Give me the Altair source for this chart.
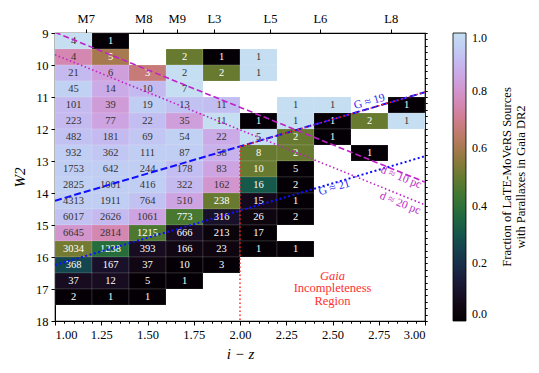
import altair as alt
import pandas as pd
import numpy as np

# ---------------- data ----------------
x_edges = [1.0, 1.2, 1.4, 1.6, 1.8, 2.0, 2.2, 2.4, 2.6, 2.8, 3.0]
row_lo = [9.0, 9.5, 10.0, 10.5, 11.0, 11.5, 12.0, 12.5, 13.0,
          13.5, 14.0, 14.5, 15.0, 15.5, 16.0, 16.5, 17.0]
N = None
counts = [
    [4, 1],
    [4, 5, N, 2, 1, 1],
    [21, 6, 3, 2, 2, 1],
    [45, 14, 10, 7],
    [101, 39, 19, 13, 11, N, 1, 1, N, 1],
    [223, 77, 22, 35, 11, 1, 1, 1, 2, 1],
    [482, 181, 69, 54, 22, 5, 2, 1],
    [932, 362, 111, 87, 58, 8, 2, N, 1],
    [1753, 642, 244, 178, 83, 10, 5],
    [2825, 1001, 416, 322, 162, 16, 2],
    [4313, 1911, 764, 510, 238, 15, 1],
    [6017, 2626, 1061, 773, 316, 26, 2],
    [6645, 2814, 1215, 666, 213, 17],
    [3034, 1238, 393, 166, 23, 1, 1],
    [368, 167, 37, 10, 3],
    [37, 12, 5, 1],
    [2, 1, 1],
]
fracs = [
    [1.0, 0.0],
    [0.75, 0.6, N, 0.5, 0.0, 1.0],
    [0.9, 0.83, 0.67, 1.0, 0.5, 1.0],
    [0.96, 0.86, 0.9, 1.0],
    [0.9, 0.82, 0.95, 0.92, 0.91, N, 1.0, 1.0, N, 0.0],
    [0.9, 0.84, 0.91, 0.83, 1.0, 0.0, 1.0, 0.0, 0.5, 1.0],
    [0.92, 0.9, 0.93, 0.96, 0.86, 1.0, 0.5, 0.0],
    [0.95, 0.93, 0.95, 0.95, 0.88, 0.5, 0.5, N, 0.0],
    [0.95, 0.95, 0.95, 0.91, 0.84, 0.5, 0.0],
    [0.96, 0.95, 0.95, 0.9, 0.8, 0.31, 0.0],
    [0.95, 0.95, 0.92, 0.84, 0.5, 0.07, 0.0],
    [0.92, 0.9, 0.84, 0.45, 0.1, 0.04, 0.0],
    [0.8, 0.75, 0.46, 0.08, 0.03, 0.0],
    [0.52, 0.38, 0.08, 0.05, 0.04, 0.0, 0.0],
    [0.26, 0.1, 0.05, 0.0, 0.0],
    [0.08, 0.08, 0.0, 0.0],
    [0.0, 0.0, 0.0],
]

spt_labels = ["M7", "M8", "M9", "L3", "L5", "L6", "L8"]
spt_pos = [1.166, 1.477, 1.658, 1.859, 2.162, 2.432, 2.815]

x_major = [1.0, 1.25, 1.5, 1.75, 2.0, 2.25, 2.5, 2.75, 3.0]
x_minor = [round(1.0 + 0.05 * k, 2) for k in range(41)]
y_major = [9, 10, 11, 12, 13, 14, 15, 16, 17, 18]
y_minor = [round(9.0 + 0.2 * k, 1) for k in range(46)]

# reference lines (endpoints in i-z, W2)
line_name = ["d10", "d10", "d20", "d20", "g19", "g19", "g21", "g21",
             "red1", "red1", "red2", "red2"]
line_x = [1.0, 3.0, 1.0, 3.0, 1.0, 3.0, 1.0, 3.0, 2.0, 3.0, 2.0, 2.0]
line_y = [8.98, 13.66, 9.68, 14.37, 14.24, 10.85, 16.25, 12.85,
          12.55, 10.85, 12.55, 18.0]

ann_text = ["G ≈ 19", "G ≈ 21", "d ≈ 10 pc", "d ≈ 20 pc"]
ann_x = [2.70, 2.51, 2.87, 2.865]
ann_y = [11.15, 13.84, 13.52, 14.33]
ann_angle = [344, 344, 22, 22]
ann_color = ["#2a2af0", "#2a2af0", "#c030c8", "#c030c8"]

gaia_text = ["Gaia", "Incompleteness", "Region"]
gaia_x = [2.5, 2.5, 2.5]
gaia_y = [16.58, 16.98, 17.39]
gaia_italic = [True, False, False]

cbar_title = ["Fraction of LaTE-MoVeRS Sources", "with Parallaxes in Gaia DR2"]

# ---------------- colormap (truncated cubehelix) ----------------
def cubehelix(x, gamma=1.0, s=0.5, r=-1.5, h=1.0):
    xg = x ** gamma
    a = h * xg * (1 - xg) / 2
    phi = 2 * np.pi * (s / 3 + r * x)
    R = xg + a * (-0.14861 * np.cos(phi) + 1.78277 * np.sin(phi))
    G = xg + a * (-0.29227 * np.cos(phi) - 0.90649 * np.sin(phi))
    B = xg + a * (1.97294 * np.cos(phi))
    return np.clip(np.stack([R, G, B], -1), 0, 1)

stops = np.linspace(0, 1, 33)
rgb = cubehelix(stops * 0.85)
cmap = ["#%02x%02x%02x" % tuple(int(round(v * 255)) for v in c) for c in rgb]
stops = [float(s) for s in stops]

# ---------------- tables ----------------
recs = []
for i, r in enumerate(row_lo):
    for j, c in enumerate(counts[i]):
        if c is None:
            continue
        f = fracs[i][j]
        recs.append(dict(x0=x_edges[j], x1=x_edges[j + 1], y0=r, y1=r + 0.5,
                         xc=(x_edges[j] + x_edges[j + 1]) / 2, yc=r + 0.25,
                         n=str(c), frac=f,
                         tc="#ffffff" if f < 0.7 else "#333333"))
cells = pd.DataFrame(recs)
lines = pd.DataFrame({"name": line_name, "x": line_x, "y": line_y})
ann = pd.DataFrame({"t": ann_text, "x": ann_x, "y": ann_y, "a": ann_angle, "c": ann_color})
gaia = pd.DataFrame({"t": gaia_text, "x": gaia_x, "y": gaia_y, "it": gaia_italic})
spt = pd.DataFrame({"pos": spt_pos})
xmin_df = pd.DataFrame({"v": x_minor})
ymin_df = pd.DataFrame({"v": y_minor})

FONT = "Liberation Serif, DejaVu Serif, serif"
xs = alt.Scale(domain=[1.0, 3.0], nice=False, zero=False)
ys = alt.Scale(domain=[9.0, 18.0], reverse=True, nice=False, zero=False)

expr = ""
bounds = [(spt_pos[k] + spt_pos[k + 1]) / 2 for k in range(len(spt_pos) - 1)]
for b, lab in zip(bounds, spt_labels[:-1]):
    expr += f"datum.value < {b:.4f} ? '{lab}' : "
expr += f"'{spt_labels[-1]}'"

rects = alt.Chart(cells).mark_rect(stroke="#ffffff", strokeWidth=0.3, strokeOpacity=0.4).encode(
    x=alt.X("x0:Q", scale=xs,
            axis=alt.Axis(values=x_major, format=".2f", title="i − z", titleFontStyle="italic",
                          titleFontSize=15, titlePadding=6, labelFontSize=12.5, tickSize=4,
                          labelPadding=3, grid=False, domainColor="black", tickColor="black",
                          labelColor="black", titleColor="black", titleFontWeight="normal")),
    x2="x1:Q",
    y=alt.Y("y0:Q", scale=ys,
            axis=alt.Axis(values=y_major, format="d", title="W2", titleFontStyle="italic",
                          titleFontSize=15, titlePadding=8, labelFontSize=12.5, tickSize=4,
                          labelPadding=3, grid=False, domainColor="black", tickColor="black",
                          labelColor="black", titleColor="black", titleFontWeight="normal")),
    y2="y1:Q",
    color=alt.Color("frac:Q", scale=alt.Scale(domain=stops, range=cmap),
                    legend=alt.Legend(title=None, orient="right", offset=25, padding=0,
                                      gradientLength=288, gradientThickness=13,
                                      gradientStrokeColor="black", gradientStrokeWidth=0.8,
                                      values=[0, 0.2, 0.4, 0.6, 0.8, 1.0], format=".1f",
                                      labelFontSize=12, labelFont=FONT, labelColor="black",
                                      labelOffset=6)),
)

texts = alt.Chart(cells).mark_text(font=FONT, fontSize=10.5, baseline="middle").encode(
    x=alt.X("xc:Q", scale=xs, axis=None),
    y=alt.Y("yc:Q", scale=ys, axis=None),
    text="n:N",
    color=alt.Color("tc:N", scale=None, legend=None),
)

def seg(name, color, dash, width=1.6):
    return alt.Chart(lines).transform_filter(alt.datum.name == name).mark_line(
        color=color, strokeDash=dash, strokeWidth=width, clip=True).encode(
        x=alt.X("x:Q", scale=xs, axis=None),
        y=alt.Y("y:Q", scale=ys, axis=None),
        order="x:Q",
    )

l_d10 = seg("d10", "#c020c8", [6, 3])
l_d20 = seg("d20", "#c020c8", [1.5, 2.5])
l_g19 = seg("g19", "#1010ff", [7, 3], 2.0)
l_g21 = seg("g21", "#1010ff", [2, 2.5], 2.0)
l_r1 = seg("red1", "#ff2020", [1.5, 2.5], 1.4)
l_r2 = seg("red2", "#ff2020", [1.5, 2.5], 1.4)

anns = alt.Chart(ann).mark_text(font=FONT, fontSize=11.5, baseline="middle").encode(
    x=alt.X("x:Q", scale=xs, axis=None),
    y=alt.Y("y:Q", scale=ys, axis=None),
    text="t:N",
    angle=alt.Angle("a:Q", scale=None),
    color=alt.Color("c:N", scale=None, legend=None),
)

def gaia_layer(italic):
    return alt.Chart(gaia).transform_filter(alt.datum.it == italic).mark_text(
        font=FONT, fontSize=12.5, baseline="middle", color="#ff3030",
        fontStyle="italic" if italic else "normal").encode(
        x=alt.X("x:Q", scale=xs, axis=None),
        y=alt.Y("y:Q", scale=ys, axis=None),
        text="t:N",
    )

gaia_it = gaia_layer(True)
gaia_up = gaia_layer(False)

top_axis = alt.Chart(spt).mark_point(opacity=0).encode(
    x=alt.X("pos:Q", scale=xs,
            axis=alt.Axis(orient="top", values=spt_pos, labelExpr=expr, title="",
                          labelFontSize=12.5, tickSize=4, grid=False, domain=False,
                          tickColor="black", labelColor="black", labelPadding=4)),
    y=alt.value(0),
)

x_minor_axis = alt.Chart(xmin_df).mark_point(opacity=0).encode(
    x=alt.X("v:Q", scale=xs,
            axis=alt.Axis(values=x_minor, labels=False, title="", tickSize=2.2, grid=False,
                          domain=False, tickColor="black")),
    y=alt.value(0),
)

y_minor_axis = alt.Chart(ymin_df).mark_point(opacity=0).encode(
    y=alt.Y("v:Q", scale=ys,
            axis=alt.Axis(values=y_minor, labels=False, title="", tickSize=2.2, grid=False,
                          domain=False, tickColor="black")),
    x=alt.value(0),
)

cbar_df = pd.DataFrame({"t": cbar_title, "px": [452, 466]})
cbar_lbl = alt.Chart(cbar_df).mark_text(font=FONT, fontSize=12.5, angle=270,
                                        baseline="middle", align="center",
                                        color="black").encode(
    x=alt.X("px:Q", scale=None, axis=None),
    y=alt.value(144),
    text="t:N",
)

chart = alt.layer(
    rects, texts, l_d10, l_d20, l_g19, l_g21, l_r1, l_r2, anns, gaia_it, gaia_up,
    top_axis, x_minor_axis, y_minor_axis, cbar_lbl,
).resolve_axis(x="independent", y="independent").properties(
    width=370, height=288,
    autosize=alt.AutoSizeParams(type="none"),
    padding={"left": 47, "top": 25, "right": 106, "bottom": 44},
).configure(font=FONT).configure_view(
    stroke="black", strokeWidth=1.2
).configure_axis(labelFont=FONT, titleFont=FONT)

chart.save("out.html", embed_options={"renderer": "svg", "actions": False})
